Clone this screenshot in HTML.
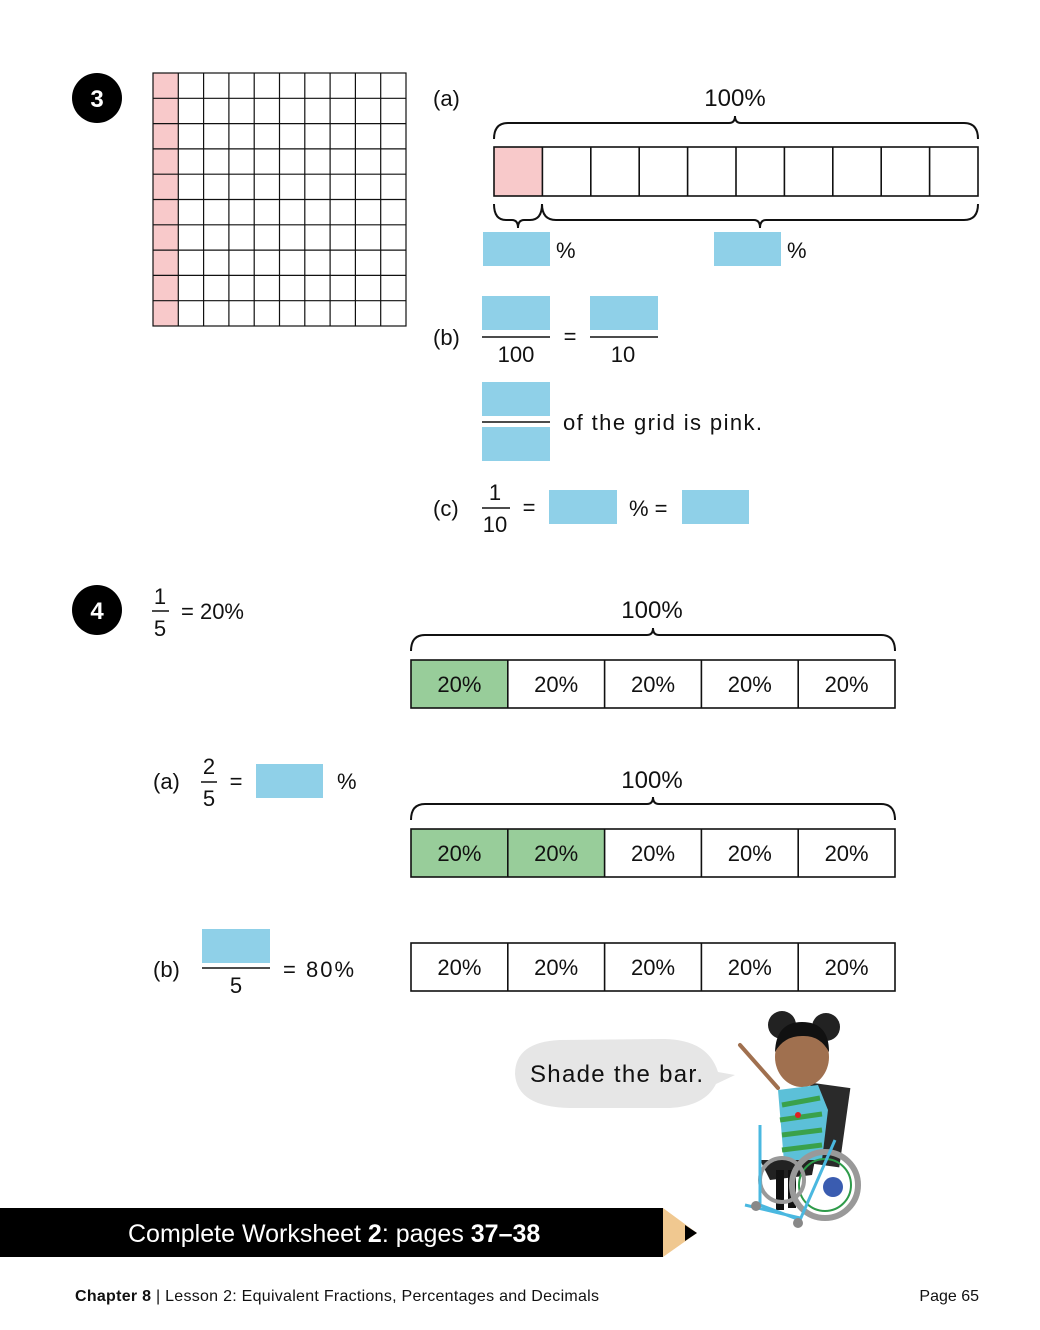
<!DOCTYPE html>
<html><head><meta charset="utf-8"><style>
html,body{margin:0;padding:0;background:#fff}
svg{display:block}
text{font-family:"Liberation Sans",sans-serif;fill:#111}
</style></head><body>
<svg width="1040" height="1330" viewBox="0 0 1040 1330" xmlns="http://www.w3.org/2000/svg">
<circle cx="97" cy="98" r="25" fill="#000"/>
<text x="97" y="107" font-size="24" font-weight="bold" text-anchor="middle" style="fill:#fff">3</text>
<circle cx="97" cy="610" r="25" fill="#000"/>
<text x="97" y="619" font-size="24" font-weight="bold" text-anchor="middle" style="fill:#fff">4</text>

<rect x="153" y="73" width="25.3" height="253" fill="#f8c9ca"/>
<g stroke="#111" stroke-width="1.2">
<rect x="153" y="73" width="253" height="253" fill="none"/>
<path d="M178.3 73V326M203.6 73V326M228.9 73V326M254.2 73V326M279.5 73V326M304.8 73V326M330.1 73V326M355.4 73V326M380.7 73V326M153 98.3H406M153 123.6H406M153 148.9H406M153 174.2H406M153 199.5H406M153 224.8H406M153 250.1H406M153 275.4H406M153 300.7H406"/>
</g>

<text x="433" y="106" font-size="22">(a)</text>
<text x="735" y="106" font-size="24" text-anchor="middle">100%</text>
<g fill="none" stroke="#111" stroke-width="2">
<path d="M494 139 Q494 123 508 123 L729 123 Q735 123 735 116 Q735 123 741 123 L964 123 Q978 123 978 139"/>
<path d="M494 204 Q494 220 506 220 L512 220 Q518 220 518 228 Q518 220 524 220 L530 220 Q542 220 542 204"/>
<path d="M542 204 Q542 220 556 220 L754 220 Q760 220 760 228 Q760 220 766 220 L964 220 Q978 220 978 204"/>
</g>
<rect x="494" y="147" width="48.4" height="49" fill="#f8c9ca"/>
<g stroke="#111" stroke-width="1.6" fill="none">
<rect x="494" y="147" width="484" height="49"/>
<path d="M542.4 147V196M590.8 147V196M639.2 147V196M687.6 147V196M736 147V196M784.4 147V196M832.8 147V196M881.2 147V196M929.6 147V196"/>
</g>
<rect x="483" y="232" width="67" height="34" fill="#8fd0e8"/>
<text x="556" y="258" font-size="22">%</text>
<rect x="714" y="232" width="67" height="34" fill="#8fd0e8"/>
<text x="787" y="258" font-size="22">%</text>

<text x="433" y="345" font-size="22">(b)</text>
<rect x="482" y="296" width="68" height="34" fill="#8fd0e8"/>
<line x1="482" y1="337" x2="550" y2="337" stroke="#111" stroke-width="1.5"/>
<text x="516" y="362" font-size="22" text-anchor="middle">100</text>
<text x="570" y="344" font-size="22" text-anchor="middle">=</text>
<rect x="590" y="296" width="68" height="34" fill="#8fd0e8"/>
<line x1="590" y1="337" x2="658" y2="337" stroke="#111" stroke-width="1.5"/>
<text x="623" y="362" font-size="22" text-anchor="middle">10</text>

<rect x="482" y="382" width="68" height="34" fill="#8fd0e8"/>
<line x1="482" y1="422" x2="550" y2="422" stroke="#111" stroke-width="1.5"/>
<rect x="482" y="427" width="68" height="34" fill="#8fd0e8"/>
<text x="563" y="430" font-size="22" textLength="199">of the grid is pink.</text>

<text x="433" y="516" font-size="22">(c)</text>
<text x="495" y="500" font-size="22" text-anchor="middle">1</text>
<line x1="482" y1="508" x2="510" y2="508" stroke="#111" stroke-width="1.5"/>
<text x="495" y="532" font-size="22" text-anchor="middle">10</text>
<text x="529" y="515" font-size="22" text-anchor="middle">=</text>
<rect x="549" y="490" width="68" height="34" fill="#8fd0e8"/>
<text x="629" y="516" font-size="22">% =</text>
<rect x="682" y="490" width="67" height="34" fill="#8fd0e8"/>

<text x="160" y="604" font-size="22" text-anchor="middle">1</text>
<line x1="152" y1="611" x2="169" y2="611" stroke="#111" stroke-width="1.5"/>
<text x="160" y="636" font-size="22" text-anchor="middle">5</text>
<text x="181" y="619" font-size="22">= 20%</text>

<text x="652" y="618" font-size="24" text-anchor="middle">100%</text>
<path d="M411 651 Q411 635 425 635 L647 635 Q653 635 653 628 Q653 635 659 635 L881 635 Q895 635 895 651" fill="none" stroke="#111" stroke-width="2"/>
<rect x="411" y="660" width="96.8" height="48" fill="#98cd9a"/>
<g stroke="#111" stroke-width="1.6" fill="none">
<rect x="411" y="660" width="484" height="48"/>
<path d="M507.8 660V708M604.6 660V708M701.4 660V708M798.2 660V708"/>
</g>
<g font-size="22" text-anchor="middle">
<text x="459.4" y="692">20%</text><text x="556.2" y="692">20%</text><text x="653" y="692">20%</text><text x="749.8" y="692">20%</text><text x="846.6" y="692">20%</text>
</g>

<text x="153" y="789" font-size="22">(a)</text>
<text x="209" y="774" font-size="22" text-anchor="middle">2</text>
<line x1="201" y1="782" x2="217" y2="782" stroke="#111" stroke-width="1.5"/>
<text x="209" y="806" font-size="22" text-anchor="middle">5</text>
<text x="236" y="789" font-size="22" text-anchor="middle">=</text>
<rect x="256" y="764" width="67" height="34" fill="#8fd0e8"/>
<text x="337" y="789" font-size="22">%</text>

<text x="652" y="788" font-size="24" text-anchor="middle">100%</text>
<path d="M411 820 Q411 804 425 804 L647 804 Q653 804 653 797 Q653 804 659 804 L881 804 Q895 804 895 820" fill="none" stroke="#111" stroke-width="2"/>
<rect x="411" y="829" width="193.6" height="48" fill="#98cd9a"/>
<g stroke="#111" stroke-width="1.6" fill="none">
<rect x="411" y="829" width="484" height="48"/>
<path d="M507.8 829V877M604.6 829V877M701.4 829V877M798.2 829V877"/>
</g>
<g font-size="22" text-anchor="middle">
<text x="459.4" y="861">20%</text><text x="556.2" y="861">20%</text><text x="653" y="861">20%</text><text x="749.8" y="861">20%</text><text x="846.6" y="861">20%</text>
</g>

<text x="153" y="977" font-size="22">(b)</text>
<rect x="202" y="929" width="68" height="34" fill="#8fd0e8"/>
<line x1="202" y1="968" x2="270" y2="968" stroke="#111" stroke-width="1.5"/>
<text x="236" y="993" font-size="22" text-anchor="middle">5</text>
<text x="283" y="977" font-size="22" textLength="71">= 80%</text>
<g stroke="#111" stroke-width="1.6" fill="none">
<rect x="411" y="943" width="484" height="48"/>
<path d="M507.8 943V991M604.6 943V991M701.4 943V991M798.2 943V991"/>
</g>
<g font-size="22" text-anchor="middle">
<text x="459.4" y="975">20%</text><text x="556.2" y="975">20%</text><text x="653" y="975">20%</text><text x="749.8" y="975">20%</text><text x="846.6" y="975">20%</text>
</g>

<path d="M560 1040 Q515 1042 515 1074 Q517 1107 570 1108 L670 1108 Q705 1106 716 1084 L735 1075 L718 1072 Q708 1040 665 1039 Z" fill="#e6e6e6"/>
<text x="530" y="1082" font-size="24" textLength="173">Shade the bar.</text>

<g>
<circle cx="782" cy="1025" r="14" fill="#222"/>
<circle cx="826" cy="1027" r="14" fill="#222"/>
<line x1="740" y1="1045" x2="778" y2="1088" stroke="#a0704f" stroke-width="4" stroke-linecap="round"/>
<rect x="805" y="1085" width="40" height="80" fill="#2a2a2a" transform="rotate(8 825 1125)"/>
<ellipse cx="802" cy="1057" rx="27" ry="30" fill="#a0704f"/>
<path d="M775 1052 Q776 1022 802 1022 Q829 1022 829 1052 Q820 1035 802 1036 Q784 1036 775 1052Z" fill="#111"/>
<path d="M778 1090 L818 1085 L828 1110 L822 1160 L784 1162 Z" fill="#5cc0d8"/>
<path d="M782 1105 L820 1098 M780 1120 L822 1114 M782 1135 L822 1130 M782 1150 L822 1145" stroke="#3aa14a" stroke-width="5"/>
<circle cx="798" cy="1115" r="3" fill="#e02020"/>
<path d="M760 1160 L815 1160 L812 1175 L770 1180 Z" fill="#222"/>
<rect x="776" y="1170" width="8" height="40" fill="#111"/>
<rect x="788" y="1170" width="8" height="38" fill="#111"/>
<circle cx="825" cy="1185" r="33" fill="none" stroke="#999" stroke-width="6"/>
<circle cx="825" cy="1185" r="26" fill="none" stroke="#2e9b4a" stroke-width="2"/>
<circle cx="833" cy="1187" r="10" fill="#3a5cb0"/>
<circle cx="782" cy="1180" r="22" fill="none" stroke="#999" stroke-width="4"/>
<path d="M760 1125 L760 1205 L800 1220 L835 1140 M745 1205 L800 1218" fill="none" stroke="#4ab8e0" stroke-width="3"/>
<circle cx="756" cy="1206" r="5" fill="#888"/>
<circle cx="798" cy="1223" r="5" fill="#888"/>
</g>

<rect x="0" y="1208" width="663" height="49" fill="#000"/>
<polygon points="663,1208 697,1233 663,1257" fill="#f0c890"/>
<polygon points="685,1225 697,1233 685,1241" fill="#000"/>
<text x="128" y="1242" font-size="25" style="fill:#fff">Complete Worksheet <tspan font-weight="bold">2</tspan>: pages <tspan font-weight="bold">37–38</tspan></text>

<text x="75" y="1301" font-size="16" textLength="524"><tspan font-weight="bold">Chapter 8</tspan> | Lesson 2: Equivalent Fractions, Percentages and Decimals</text>
<text x="979" y="1301" font-size="16" text-anchor="end">Page 65</text>
</svg>
</body></html>
